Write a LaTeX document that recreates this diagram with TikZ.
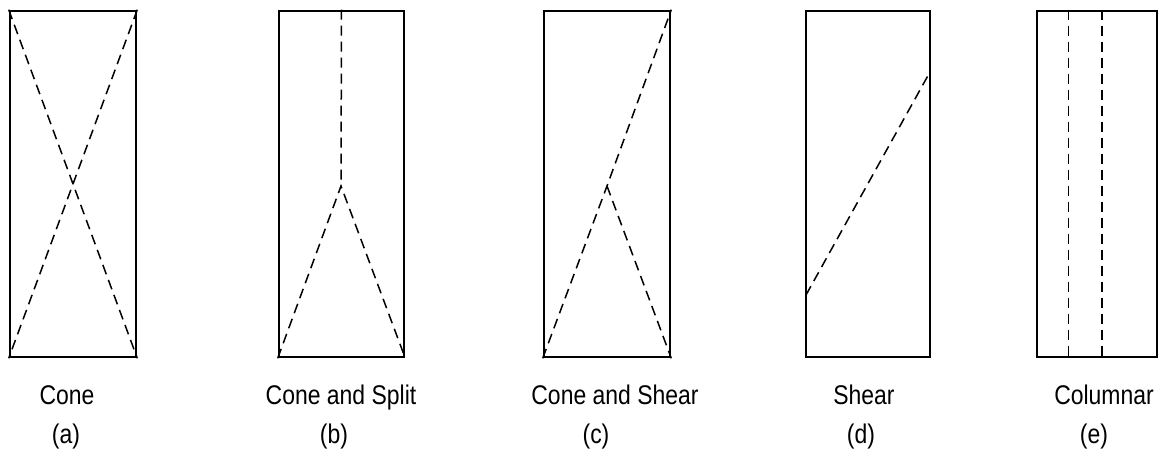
\documentclass[tikz,border=0pt]{standalone}
\usepackage{fontspec}
\setmainfont{Liberation Sans}[FakeStretch=0.85]
\usetikzlibrary{positioning, calc}

\begin{document}
\begin{tikzpicture}[x=0.5pt, y=-0.5pt]
    \tikzset{panel/.style={draw, line width=1.3pt, inner sep=0pt, minimum height=173pt},
        crack/.style={dash pattern=on 5pt off 3pt, line width=0.75pt},
        caption/.style={anchor=base, inner sep=0pt, font=\fontsize{13.5}{15}\selectfont}
    }
    \useasboundingbox (0,0) rectangle (1164,459);

    \foreach \i / \l / \r / \cx / \px / \name in {a/10/136/67/66/Cone, b/279/404/341/334/Cone and Split,
            c/544/670/615/596/Cone and Shear, d/806/930/864/861/Shear, e/1037/1157/1104/1094/Columnar} {
        \node (box-\i) [panel, minimum width={(\r-\l)*0.5pt}] at ({(\l+\r)/2}, 184) {};
        \node (name-\i) [caption] at (\cx, 405) {\name};
        \node (tag-\i) [caption] at (\px, 444) {(\i)};
    }

    % cone
    \draw [crack] (box-a.north west) -- (box-a.south east);
    \draw [crack] (box-a.north east) -- (box-a.south west);

    % cone and split
    \coordinate (apex-b) at (341, 186);
    \draw [crack] (box-b.north) -- (apex-b);
    \draw [crack] (box-b.south west) -- (apex-b) -- (box-b.south east);

    % cone and shear
    \coordinate (apex-c) at (607, 186);
    \draw [crack] (box-c.south west) -- (apex-c) -- (box-c.north east);
    \draw [crack] (apex-c) -- (box-c.south east);

    % shear
    \coordinate (shear-lo) at (806, 295);
    \coordinate (shear-hi) at (930, 72);
    \draw [crack] (shear-lo) -- (shear-hi);

    % columnar
    \foreach \f in {0.267, 0.542} {
        \draw [crack] ($(box-e.north west)!\f!(box-e.north east)$) -- ($(box-e.south west)!\f!(box-e.south east)$);
    }
\end{tikzpicture}
\end{document}
